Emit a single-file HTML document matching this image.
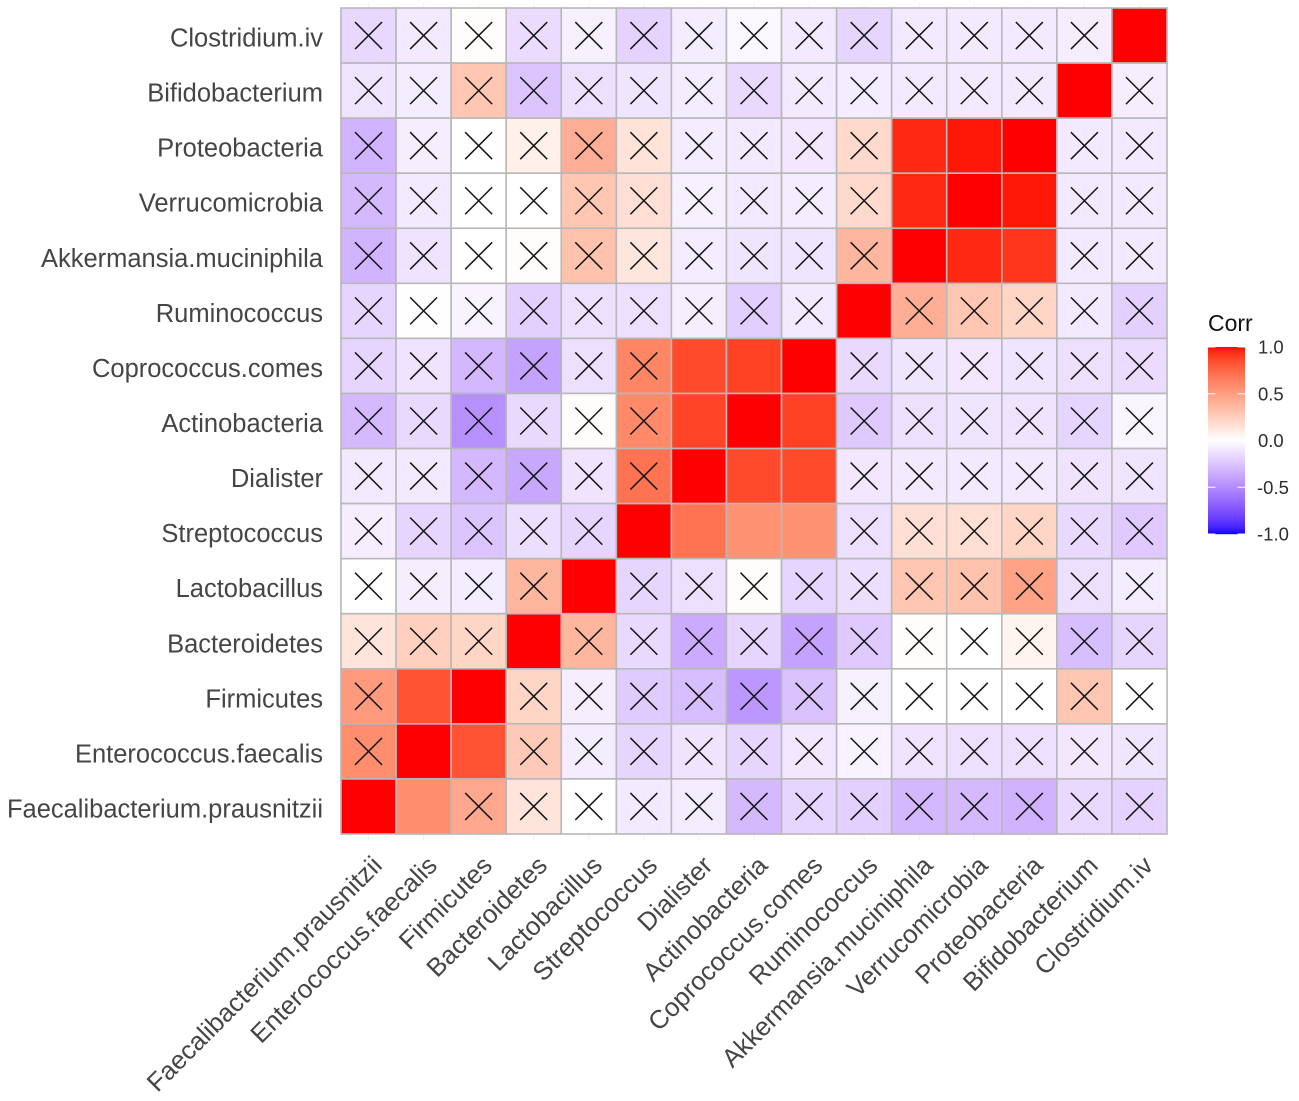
<!DOCTYPE html>
<html lang="en">
<head>
<meta charset="utf-8">
<title>Correlation heatmap</title>
<style>
  html, body { margin: 0; padding: 0; background: #fff; }
  svg { display: block; font-family: "Liberation Sans", Arial, sans-serif; }
</style>
</head>
<body>
<svg id="chart" xmlns="http://www.w3.org/2000/svg" width="1299" height="1101" viewBox="0 0 1299 1101">
  <g id="x-ticks"></g>
  <g id="tiles"></g>
  <g id="crosses"></g>
  <g id="y-labels"></g>
  <g id="x-labels"></g>
  <g id="legend">
    <text x="1208" y="331" font-size="23" fill="#111">Corr</text>
    <g id="legend-bar"></g>
    <g id="legend-ticks"></g>
  </g>
</svg>
<script>
// Variables, left to right on the x axis and bottom to top on the y axis
const categories = ["Faecalibacterium.prausnitzii","Enterococcus.faecalis","Firmicutes","Bacteroidetes","Lactobacillus","Streptococcus","Dialister","Actinobacteria","Coprococcus.comes","Ruminococcus","Akkermansia.muciniphila","Verrucomicrobia","Proteobacteria","Bifidobacterium","Clostridium.iv"];

// Correlation values, rows listed top to bottom (Clostridium.iv first)
const correlations = [
  [-.17,-.09,.01,-.15,-.06,-.19,-.08,-.03,-.09,-.18,-.09,-.09,-.09,-.07,1],
  [-.11,-.08,.30,-.25,-.13,-.11,-.08,-.16,-.09,-.08,-.09,-.09,-.09,1,-.07],
  [-.32,-.07,0,.08,.42,.15,-.08,-.09,-.10,.20,.95,.98,1,-.09,-.09],
  [-.30,-.09,0,0,.30,.17,-.06,-.09,-.08,.20,.95,1,.98,-.09,-.09],
  [-.32,-.12,0,.01,.32,.13,-.08,-.11,-.11,.38,1,.95,.92,-.09,-.09],
  [-.18,-.01,-.05,-.20,-.13,-.13,-.07,-.21,-.09,1,.42,.30,.22,-.09,-.20],
  [-.18,-.12,-.31,-.40,-.13,.62,.86,.89,1,-.16,-.11,-.10,-.11,-.13,-.15],
  [-.30,-.16,-.48,-.16,.01,.60,.88,1,.89,-.23,-.13,-.11,-.12,-.18,-.04],
  [-.09,-.09,-.31,-.38,-.12,.70,1,.86,.86,-.10,-.09,-.09,-.09,-.12,-.11],
  [-.07,-.18,-.25,-.14,-.18,1,.70,.56,.56,-.13,.17,.17,.22,-.16,-.23],
  [0,-.07,-.08,.38,1,-.18,-.13,.01,-.18,-.14,.30,.32,.48,-.13,-.08],
  [.14,.25,.22,1,.38,-.16,-.36,-.18,-.40,-.23,.01,0,.06,-.28,-.18],
  [.52,.83,1,.22,-.07,-.22,-.28,-.45,-.26,-.06,0,0,0,.30,0],
  [.58,1,.83,.28,-.08,-.18,-.12,-.18,-.10,-.05,-.12,-.13,-.13,-.10,-.11],
  [1,.58,.45,.14,0,-.09,-.08,-.30,-.18,-.20,-.31,-.30,-.33,-.16,-.19]
];

// 1 = not significant (crossed out), rows listed top to bottom
const crossed = [
  [1,1,1,1,1,1,1,1,1,1,1,1,1,1,0],
  [1,1,1,1,1,1,1,1,1,1,1,1,1,0,1],
  [1,1,1,1,1,1,1,1,1,1,0,0,0,1,1],
  [1,1,1,1,1,1,1,1,1,1,0,0,0,1,1],
  [1,1,1,1,1,1,1,1,1,1,0,0,0,1,1],
  [1,1,1,1,1,1,1,1,1,0,1,1,1,1,1],
  [1,1,1,1,1,1,0,0,0,1,1,1,1,1,1],
  [1,1,1,1,1,1,0,0,0,1,1,1,1,1,1],
  [1,1,1,1,1,1,0,0,0,1,1,1,1,1,1],
  [1,1,1,1,1,0,0,0,0,1,1,1,1,1,1],
  [1,1,1,1,0,1,1,1,1,1,1,1,1,1,1],
  [1,1,1,0,1,1,1,1,1,1,1,1,1,1,1],
  [1,0,0,1,1,1,1,1,1,1,1,1,1,1,1],
  [1,0,0,1,1,1,1,1,1,1,1,1,1,1,1],
  [0,0,1,1,1,1,1,1,1,1,1,1,1,1,1]
];

const legendTicks = [1, 0.5, 0, -0.5, -1];

const NS = "http://www.w3.org/2000/svg";
const panel = { left: 341, top: 8, size: 826 };
const n = categories.length;
const cell = panel.size / n;

function xCenter(i) { return panel.left + (i + 0.5) * cell; }
function yCenter(rowFromTop) { return panel.top + (rowFromTop + 0.5) * cell; }
const legendAxis = { zero: 440.5, half: 93.5 };
function legendY(v) { return legendAxis.zero - v * legendAxis.half; }

function make(tag, attrs) {
  const el = document.createElementNS(NS, tag);
  for (const k in attrs) el.setAttribute(k, attrs[k]);
  return el;
}

// sRGB <-> Lab, matching ggplot2's gradient2 interpolation
function toLin(c) { c /= 255; return c <= 0.04045 ? c / 12.92 : Math.pow((c + 0.055) / 1.055, 2.4); }
function toSrgb(c) { const v = c <= 0.0031308 ? 12.92 * c : 1.055 * Math.pow(c, 1 / 2.4) - 0.055; return Math.max(0, Math.min(255, Math.round(v * 255))); }
function rgb2lab(rgb) {
  const r = toLin(rgb[0]), g = toLin(rgb[1]), b = toLin(rgb[2]);
  const X = (0.4124564 * r + 0.3575761 * g + 0.1804375 * b) / 0.95047;
  const Y = 0.2126729 * r + 0.7151522 * g + 0.0721750 * b;
  const Z = (0.0193339 * r + 0.1191920 * g + 0.9503041 * b) / 1.08883;
  const f = t => t > 0.008856 ? Math.cbrt(t) : 7.787 * t + 16 / 116;
  return [116 * f(Y) - 16, 500 * (f(X) - f(Y)), 200 * (f(Y) - f(Z))];
}
function lab2rgb(lab) {
  const fy = (lab[0] + 16) / 116, fx = fy + lab[1] / 500, fz = fy - lab[2] / 200;
  const inv = t => t * t * t > 0.008856 ? t * t * t : (t - 16 / 116) / 7.787;
  const X = inv(fx) * 0.95047, Y = inv(fy), Z = inv(fz) * 1.08883;
  const r = 3.2404542 * X - 1.5371385 * Y - 0.4985314 * Z;
  const g = -0.9692660 * X + 1.8760108 * Y + 0.0415560 * Z;
  const b = 0.0556434 * X - 0.2040259 * Y + 1.0572252 * Z;
  return "rgb(" + toSrgb(r) + "," + toSrgb(g) + "," + toSrgb(b) + ")";
}
const labWhite = rgb2lab([255, 255, 255]);
const labRed = rgb2lab([255, 0, 0]);
const labBlue = rgb2lab([0, 0, 255]);
function colorFor(v) {
  const end = v >= 0 ? labRed : labBlue;
  const t = Math.min(1, Math.abs(v));
  return lab2rgb([0, 1, 2].map(i => labWhite[i] + (end[i] - labWhite[i]) * t));
}

const tilesG = document.getElementById("tiles");
const crossesG = document.getElementById("crosses");
const xTicksG = document.getElementById("x-ticks");
const yLabelsG = document.getElementById("y-labels");
const xLabelsG = document.getElementById("x-labels");
const arm = 13.5;

correlations.forEach((row, r) => {
  row.forEach((value, c) => {
    const tile = make("rect", {
      x: panel.left + c * cell, y: panel.top + r * cell,
      width: cell, height: cell,
      fill: colorFor(value), stroke: "#b8b8b8", "stroke-width": 1.6
    });
    
    
    tilesG.appendChild(tile);
    if (crossed[r][c]) {
      const cx = xCenter(c), cy = yCenter(r);
      const cross = make("path", {
        d: "M" + (cx - arm) + " " + (cy - arm) + "L" + (cx + arm) + " " + (cy + arm) +
           "M" + (cx - arm) + " " + (cy + arm) + "L" + (cx + arm) + " " + (cy - arm),
        stroke: "#151515", "stroke-width": 1.5, fill: "none"
      });
      
      
      crossesG.appendChild(cross);
    }
  });
});

categories.forEach((name, i) => {
  const yLabel = make("text", {
    x: 323, y: yCenter(n - 1 - i) + 11,
    "text-anchor": "end", "font-size": 25.5, fill: "#454545"
  });
  yLabel.textContent = name;
  
  
  yLabelsG.appendChild(yLabel);

  const ax = xCenter(i) + 15, ay = 867;
  const xLabel = make("text", {
    x: ax, y: ay,
    transform: "rotate(-45 " + ax + " " + ay + ")",
    "text-anchor": "end", "font-size": 25.8, fill: "#454545"
  });
  xLabel.textContent = name;
  
  
  xLabelsG.appendChild(xLabel);

  const tick = make("line", {
    x1: xCenter(i), x2: xCenter(i), y1: 3, y2: 840,
    stroke: "#f1f1f1", "stroke-width": 1
  });
  
  
  xTicksG.appendChild(tick);
});

// Legend colour bar
const barG = document.getElementById("legend-bar");
const bar = { x: 1208, w: 37 };
for (let y = legendY(1); y < legendY(-1); y += 1) {
  const v = (legendAxis.zero - (y + 0.5)) / legendAxis.half;
  const strip = make("rect", { x: bar.x, y: y, width: bar.w, height: 1.2, fill: colorFor(v) });
  
  
  barG.appendChild(strip);
}
const legendTicksG = document.getElementById("legend-ticks");
legendTicks.forEach(v => {
  const y = legendY(v);
  [[bar.x, bar.x + 7.4], [bar.x + bar.w - 7.4, bar.x + bar.w]].forEach(p => {
    const mark = make("line", { x1: p[0], x2: p[1], y1: y, y2: y, stroke: "#fff", "stroke-width": 1 });
    
    
    legendTicksG.appendChild(mark);
  });
  const label = make("text", { x: 1257 + (v < 0 ? 0 : 1), y: y + 6.5, "font-size": 18.5, fill: "#2e2e2e" });
  label.textContent = v.toFixed(1);
  
  
  legendTicksG.appendChild(label);
});
</script>
</body>
</html>
